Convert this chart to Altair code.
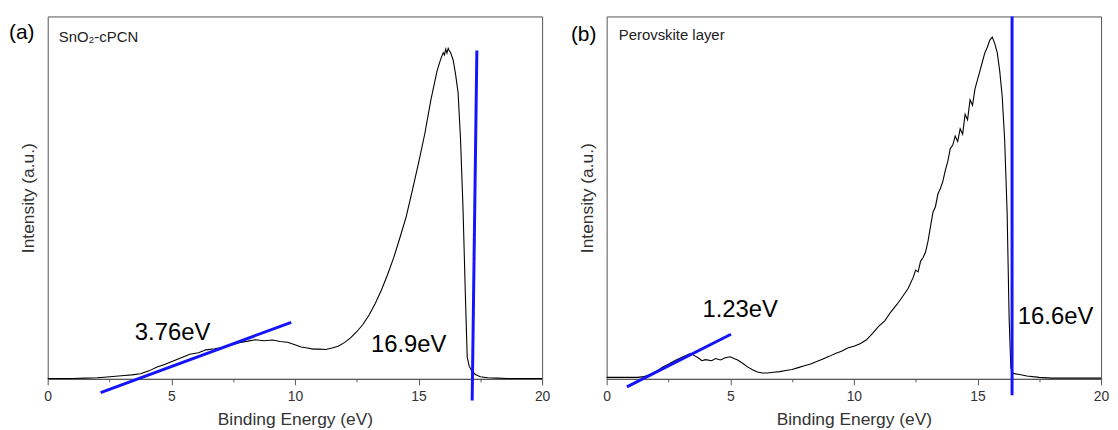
import altair as alt
import pandas as pd

# ---------------- data ----------------
# Panel (a) SnO2-cPCN : binding energy (eV) and normalised intensity
a_energy = [0, 0.5, 1.0, 1.5, 2.0, 2.4, 2.75, 3.1, 3.4, 3.75, 4.1, 4.4, 4.75, 5.1, 5.4, 5.75,
            6.1, 6.4, 6.75, 7.1, 7.4, 7.75, 8.1, 8.4, 8.75, 9.1, 9.4, 9.7, 10.0, 10.25,
            10.5, 10.75, 11.0, 11.25, 11.5, 11.75, 12.0, 12.25, 12.5, 12.75, 13.0, 13.25,
            13.5, 13.75, 14.0, 14.25, 14.5, 14.75, 15.0, 15.25, 15.5, 15.75, 15.9, 16.0,
            16.05, 16.1, 16.15, 16.2, 16.25, 16.3, 16.4, 16.5, 16.6, 16.7, 16.8, 16.9,
            16.97, 17.05, 17.15, 17.3, 17.5, 17.8, 18.2, 18.6, 19.0, 19.5, 20.0]
a_intensity = [0.001, 0.001, 0.001, 0.002, 0.003, 0.005, 0.007, 0.009, 0.011, 0.014, 0.022,
               0.032, 0.04, 0.05, 0.058, 0.068, 0.072, 0.08, 0.083, 0.087, 0.093, 0.1,
               0.104, 0.108, 0.105, 0.107, 0.103, 0.101, 0.094, 0.088, 0.085, 0.082, 0.082,
               0.081, 0.085, 0.09, 0.1, 0.113, 0.13, 0.15, 0.176, 0.208, 0.245, 0.288, 0.335,
               0.39, 0.447, 0.52, 0.595, 0.675, 0.77, 0.85, 0.883, 0.9, 0.894, 0.91, 0.899,
               0.912, 0.905, 0.9, 0.88, 0.84, 0.79, 0.66, 0.47, 0.22, 0.06, 0.035, 0.022,
               0.012, 0.006, 0.003, 0.002, 0.001, 0.001, 0.001, 0.001]

# Panel (b) Perovskite layer
b_energy = [0, 0.5, 1.0, 1.25, 1.5, 1.75, 2.0, 2.25, 2.5, 2.75, 3.0, 3.25, 3.4, 3.55, 3.7,
            3.85, 4.0, 4.25, 4.4, 4.6, 4.8, 5.0, 5.15, 5.3, 5.5, 5.7, 5.9, 6.1, 6.3, 6.5,
            6.75, 7.0, 7.25, 7.5, 7.75, 8.0, 8.25, 8.5, 8.75, 9.0, 9.25, 9.5, 9.75, 10.0,
            10.25, 10.5, 10.75, 11.0, 11.25, 11.5, 11.75, 12.0, 12.2, 12.4, 12.5, 12.6,
            12.7, 12.8, 12.9, 13.0, 13.1, 13.2, 13.3, 13.4, 13.5, 13.6, 13.7, 13.8, 13.9,
            14.0, 14.1, 14.2, 14.3, 14.4, 14.5, 14.6, 14.7, 14.8, 14.9, 15.0, 15.1, 15.2,
            15.3, 15.4, 15.5, 15.6, 15.7, 15.8, 15.9, 16.0, 16.1, 16.2, 16.28, 16.35,
            16.45, 16.7, 17.0, 17.5, 18.0, 19.0, 20.0]
b_intensity = [0.004, 0.004, 0.004, 0.004, 0.006, 0.012, 0.02, 0.032, 0.04, 0.05, 0.058,
               0.066, 0.07, 0.064, 0.058, 0.05, 0.053, 0.05, 0.056, 0.052, 0.058, 0.061,
               0.056, 0.052, 0.043, 0.033, 0.025, 0.019, 0.016, 0.016, 0.018, 0.02, 0.023,
               0.026, 0.031, 0.036, 0.041, 0.048, 0.055, 0.062, 0.07, 0.076, 0.085, 0.09,
               0.097, 0.107, 0.125, 0.145, 0.16, 0.185, 0.206, 0.23, 0.25, 0.28, 0.3,
               0.295, 0.325, 0.335, 0.35, 0.38, 0.42, 0.46, 0.475, 0.51, 0.525, 0.545,
               0.575, 0.6, 0.635, 0.645, 0.67, 0.655, 0.69, 0.675, 0.73, 0.715, 0.77, 0.755,
               0.8, 0.825, 0.85, 0.875, 0.9, 0.915, 0.935, 0.943, 0.925, 0.9, 0.85, 0.78,
               0.66, 0.46, 0.17, 0.03, 0.015, 0.012, 0.008, 0.004, 0.002, 0.002, 0.002]

# tangent / cut-off guide lines (blue)
a_tangent_energy = [2.14, 9.85]
a_tangent_intensity = [-0.038, 0.156]
a_cutoff_energy = [17.17, 17.36]
a_cutoff_intensity = [-0.06, 0.906]
b_tangent_energy = [0.82, 5.03]
b_tangent_intensity = [-0.022, 0.123]
b_cutoff_energy = [16.4, 16.4]
b_cutoff_intensity = [-0.045, 1.0]

# annotation texts and their data positions
a_notes = ["3.76eV", "16.9eV"]
a_notes_energy = [5.05, 14.6]
a_notes_intensity = [0.126, 0.094]
b_notes = ["1.23eV", "16.6eV"]
b_notes_energy = [5.4, 18.16]
b_notes_intensity = [0.19, 0.17]

a_sample = "SnO₂-cPCN"
b_sample = "Perovskite layer"
sample_energy = [0.45, 0.49]
sample_intensity = [0.942, 0.948]

x_ticks = [0, 2.5, 5, 7.5, 10, 12.5, 15, 17.5, 20]

FONT = "Liberation Sans"
BLUE = "#1414ff"


def panel(energy, intensity, tanE, tanI, cutE, cutI, notes, notesE, notesI,
          sample, sE, sI, tag, tag_dx, tag_dy):
    xscale = alt.Scale(domain=[0, 20], nice=False, zero=False)
    yscale = alt.Scale(domain=[0, 1], nice=False, zero=False)
    xaxis = alt.Axis(values=x_ticks, labelExpr="datum.value % 5 === 0 ? datum.label : ''",
                     tickSize={"condition": {"test": "datum.value % 5 === 0", "value": 6},
                               "value": 3},
                     labelFlush=False, grid=False, labelPadding=5, titlePadding=7)
    yaxis = alt.Axis(labels=False, ticks=False, domain=False, grid=False, titlePadding=10)

    curve = alt.Chart(pd.DataFrame({"E": energy, "I": intensity})).mark_line(
        color="black", strokeWidth=1.1
    ).encode(
        x=alt.X("E:Q", scale=xscale, axis=xaxis, title="Binding Energy (eV)"),
        y=alt.Y("I:Q", scale=yscale, axis=yaxis, title="Intensity (a.u.)"),
    )
    tangent = alt.Chart(pd.DataFrame({"E": tanE, "I": tanI})).mark_line(
        color=BLUE, strokeWidth=3
    ).encode(x=alt.X("E:Q", scale=xscale), y=alt.Y("I:Q", scale=yscale))
    cutoff = alt.Chart(pd.DataFrame({"E": cutE, "I": cutI})).mark_line(
        color=BLUE, strokeWidth=3
    ).encode(x=alt.X("E:Q", scale=xscale), y=alt.Y("I:Q", scale=yscale))
    note = alt.Chart(pd.DataFrame({"E": notesE, "I": notesI, "t": notes})).mark_text(
        font=FONT, fontSize=24, color="black", align="center", baseline="middle"
    ).encode(x=alt.X("E:Q", scale=xscale), y=alt.Y("I:Q", scale=yscale), text="t:N")
    samp = alt.Chart(pd.DataFrame({"E": [sE], "I": [sI], "t": [sample]})).mark_text(
        font=FONT, fontSize=15, color="#222", align="left", baseline="middle"
    ).encode(x=alt.X("E:Q", scale=xscale), y=alt.Y("I:Q", scale=yscale), text="t:N")
    tagm = alt.Chart(pd.DataFrame({"t": [tag]})).mark_text(
        font=FONT, fontSize=21, color="black", align="left", baseline="middle"
    ).encode(x=alt.value(tag_dx), y=alt.value(tag_dy), text="t:N")
    return alt.layer(curve, tangent, cutoff, note, samp, tagm).properties(
        width=498, height=365,
        view=alt.ViewBackground(stroke="#555", strokeWidth=1, fill="white"),
    )


pa = panel(a_energy, a_intensity, a_tangent_energy, a_tangent_intensity,
           a_cutoff_energy, a_cutoff_intensity, a_notes, a_notes_energy, a_notes_intensity,
           a_sample, sample_energy[0], sample_intensity[0], "(a)", -39, 17)
pb = panel(b_energy, b_intensity, b_tangent_energy, b_tangent_intensity,
           b_cutoff_energy, b_cutoff_intensity, b_notes, b_notes_energy, b_notes_intensity,
           b_sample, sample_energy[1], sample_intensity[1], "(b)", -36, 19)

chart = alt.hconcat(pa, pb, spacing=19).properties(
    padding={"left": 0, "top": 0, "right": 0, "bottom": 0}
).configure_view(
    stroke="#555", strokeWidth=1
).configure_axis(
    labelFont=FONT, titleFont=FONT, labelFontSize=14, titleFontSize=17.5,
    labelColor="#333", titleColor="#333", tickColor="#555", domainColor="#555",
    titleFontWeight="normal"
)

chart.save("out.html", embed_options={"renderer": "svg", "actions": False})
